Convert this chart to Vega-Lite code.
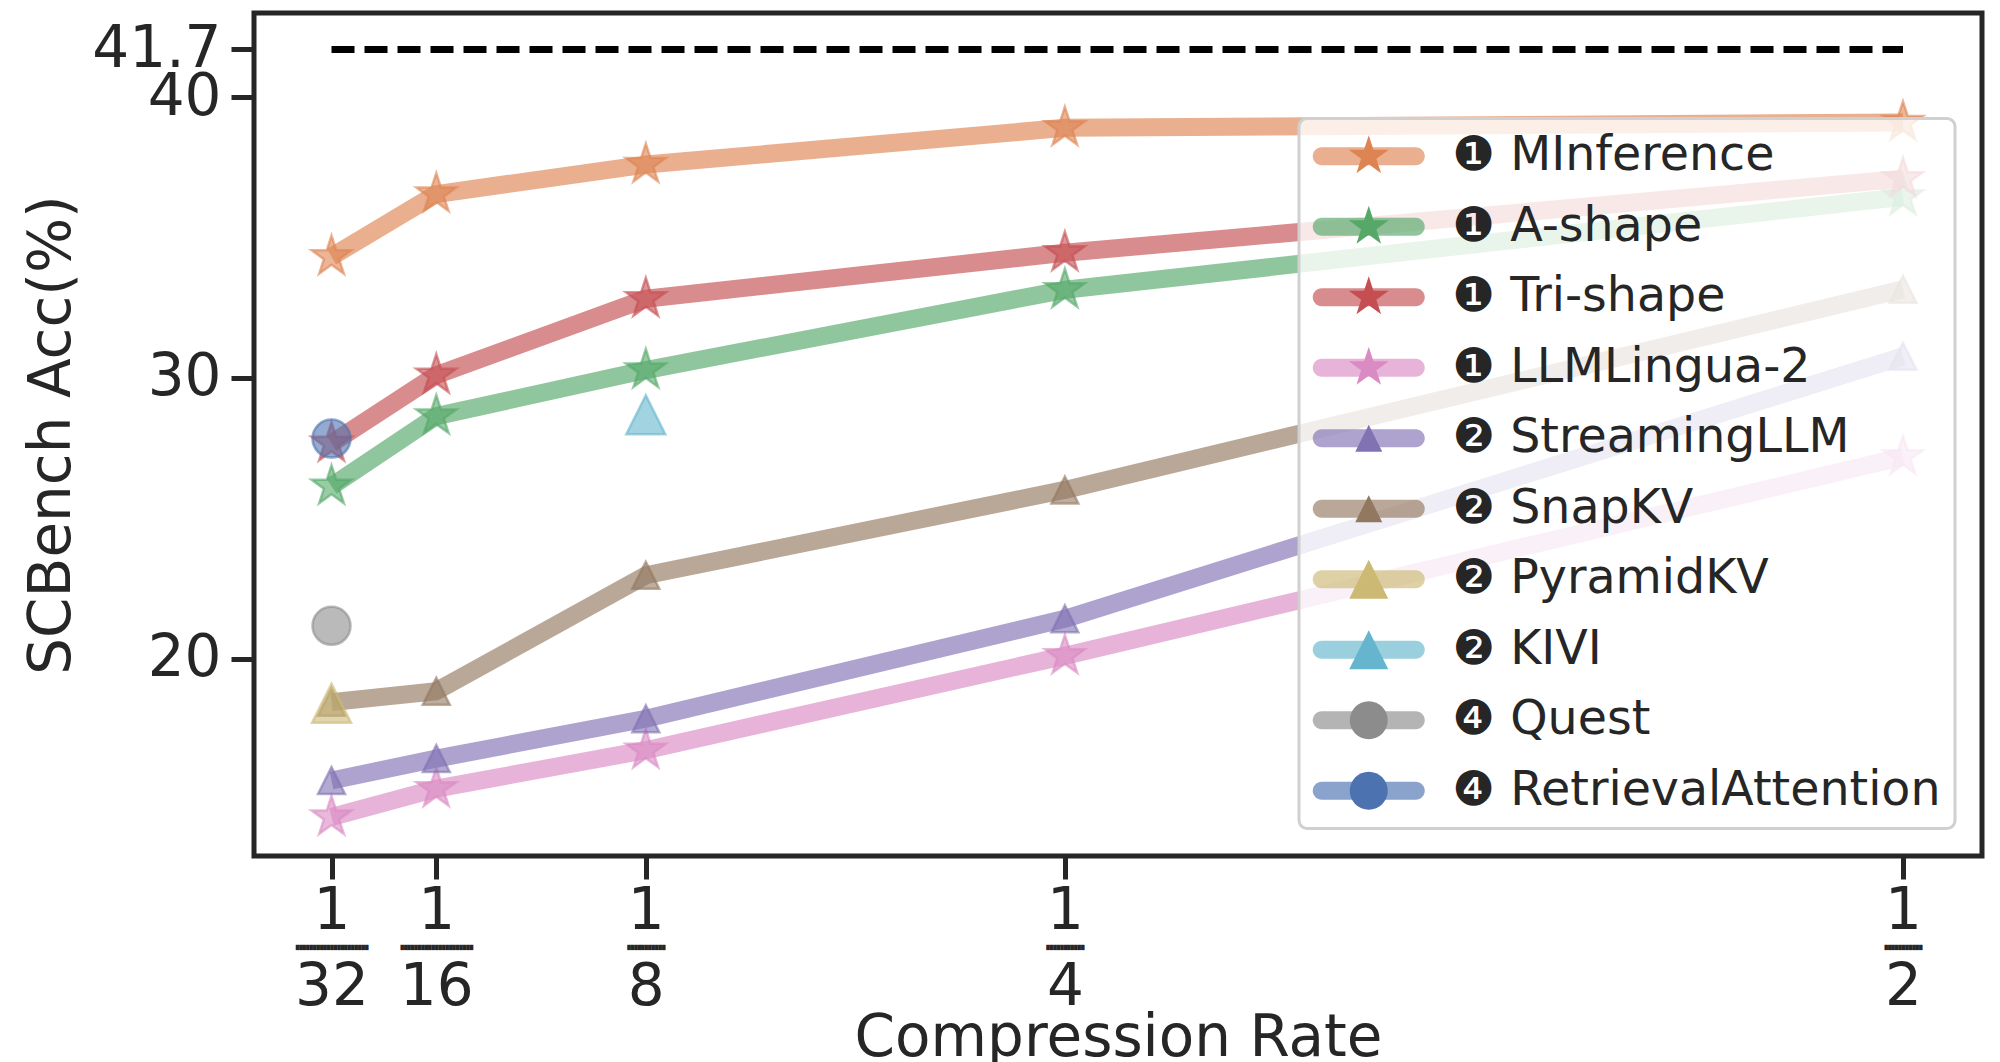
{
  "$schema": "https://vega.github.io/schema/vega-lite/v6.json",
  "width": 1728,
  "height": 843,
  "autosize": {"type": "none"},
  "padding": {"left": 254, "top": 13, "right": 18, "bottom": 206},
  "background": "white",
  "config": {
    "font": "DejaVu Sans",
    "view": {"stroke": "#262626", "strokeWidth": 5},
    "axis": {
      "grid": false,
      "domain": false,
      "ticks": true,
      "tickColor": "#262626",
      "tickWidth": 5,
      "tickSize": 23,
      "labelColor": "#262626",
      "labelFont": "DejaVu Sans",
      "labelFontSize": 58,
      "titleFont": "DejaVu Sans",
      "titleFontSize": 58,
      "titleColor": "#262626",
      "titleFontWeight": "normal"
    },
    "legend": {"labelFont": "DejaVu Sans", "labelFontSize": 47.5, "labelColor": "#262626"}
  },
  "resolve": {"axis": {"x": "independent"}},
  "datasets": {
    "ref": [{"x": 0.03125, "x2": 0.5, "y": 41.7}],
    "acc": [
      {"method": "❶ MInference", "rate": 0.03125, "acc": 34.32},
      {"method": "❶ MInference", "rate": 0.0625, "acc": 36.55},
      {"method": "❶ MInference", "rate": 0.125, "acc": 37.6},
      {"method": "❶ MInference", "rate": 0.25, "acc": 38.91},
      {"method": "❶ MInference", "rate": 0.5, "acc": 39.1},
      {"method": "❶ A-shape", "rate": 0.03125, "acc": 26.14},
      {"method": "❶ A-shape", "rate": 0.0625, "acc": 28.64},
      {"method": "❶ A-shape", "rate": 0.125, "acc": 30.28},
      {"method": "❶ A-shape", "rate": 0.25, "acc": 33.14},
      {"method": "❶ A-shape", "rate": 0.5, "acc": 36.45},
      {"method": "❶ Tri-shape", "rate": 0.03125, "acc": 27.67},
      {"method": "❶ Tri-shape", "rate": 0.0625, "acc": 30.1},
      {"method": "❶ Tri-shape", "rate": 0.125, "acc": 32.82},
      {"method": "❶ Tri-shape", "rate": 0.25, "acc": 34.46},
      {"method": "❶ Tri-shape", "rate": 0.5, "acc": 37.1},
      {"method": "❶ LLMLingua-2", "rate": 0.03125, "acc": 14.36},
      {"method": "❶ LLMLingua-2", "rate": 0.0625, "acc": 15.37},
      {"method": "❶ LLMLingua-2", "rate": 0.125, "acc": 16.74},
      {"method": "❶ LLMLingua-2", "rate": 0.25, "acc": 20.1},
      {"method": "❶ LLMLingua-2", "rate": 0.5, "acc": 27.19},
      {"method": "❷ StreamingLLM", "rate": 0.03125, "acc": 15.66},
      {"method": "❷ StreamingLLM", "rate": 0.0625, "acc": 16.44},
      {"method": "❷ StreamingLLM", "rate": 0.125, "acc": 17.86},
      {"method": "❷ StreamingLLM", "rate": 0.25, "acc": 21.42},
      {"method": "❷ StreamingLLM", "rate": 0.5, "acc": 30.77},
      {"method": "❷ SnapKV", "rate": 0.03125, "acc": 18.45},
      {"method": "❷ SnapKV", "rate": 0.0625, "acc": 18.84},
      {"method": "❷ SnapKV", "rate": 0.125, "acc": 22.97},
      {"method": "❷ SnapKV", "rate": 0.25, "acc": 26.01},
      {"method": "❷ SnapKV", "rate": 0.5, "acc": 33.16},
      {"method": "❷ PyramidKV", "rate": 0.03125, "acc": 18.41},
      {"method": "❷ KIVI", "rate": 0.125, "acc": 28.69},
      {"method": "❹ Quest", "rate": 0.03125, "acc": 21.17},
      {"method": "❹ RetrievalAttention", "rate": 0.03125, "acc": 27.84}
    ]
  },
  "layer": [
    {
      "data": {"name": "ref"},
      "mark": {"type": "rule", "color": "black", "strokeWidth": 7, "strokeDash": [23, 10]},
      "encoding": {
        "x": {
          "field": "x",
          "type": "quantitative",
          "title": "Compression Rate",
          "scale": {"domain": [0.00813, 0.52357], "nice": false, "zero": false},
          "axis": {
            "orient": "bottom",
            "title": "Compression Rate",
            "values": [0.03125, 0.0625, 0.125, 0.25, 0.5],
            "labelExpr": "datum.value == 0.03125 ? ['1', '32'] : datum.value == 0.0625 ? ['1', '16'] : datum.value == 0.125 ? ['1', '8'] : datum.value == 0.25 ? ['1', '4'] : ['1', '2']",
            "labelLineHeight": 76,
            "labelPadding": 3,
            "labelFlush": false,
            "labelOverlap": false,
            "titlePadding": -7
          }
        },
        "x2": {"field": "x2"},
        "y": {
          "field": "y",
          "type": "quantitative",
          "title": "SCBench Acc(%)",
          "scale": {"domain": [12.97, 43.0], "nice": false, "zero": false},
          "axis": {
            "title": "SCBench Acc(%)",
            "values": [20, 30, 40, 41.7],
            "labelExpr": "datum.value == 41.7 ? '41.7' : format(datum.value, 'd')",
            "labelPadding": 10,
            "labelOverlap": false,
            "labelBound": false,
            "titlePadding": 10
          }
        }
      }
    },
    {
      "data": {"name": "acc"},
      "mark": {"type": "line", "strokeWidth": 18, "opacity": 0.65, "strokeJoin": "round", "strokeCap": "butt"},
      "encoding": {
        "x": {
          "field": "rate",
          "type": "quantitative",
          "axis": {
            "orient": "bottom",
            "title": null,
            "ticks": false,
            "tickSize": 0,
            "values": [0.03125, 0.0625, 0.125, 0.25, 0.5],
            "labelExpr": "datum.value <= 0.0625 ? '█████████████████████' : '███████████'",
            "labelFontSize": 4.5,
            "labelPadding": 88.6,
            "labelFlush": false,
            "labelOverlap": false,
            "labelBound": false
          }
        },
        "y": {"field": "acc", "type": "quantitative", "title": "SCBench Acc(%)"},
        "stroke": {
          "field": "method",
          "type": "nominal",
          "scale": {
            "domain": ["❶ MInference", "❶ A-shape", "❶ Tri-shape", "❶ LLMLingua-2", "❷ StreamingLLM", "❷ SnapKV", "❷ PyramidKV", "❷ KIVI", "❹ Quest", "❹ RetrievalAttention", "zz"],
            "range": ["#DD8452", "#55A868", "#C44E52", "#DA8BC3", "#8172B3", "#937860", "#CCB974", "#64B5CD", "#8C8C8C", "#4C72B0", "#ffffff"]
          },
          "legend": {
            "title": null,
            "orient": "none",
            "legendX": 1045,
            "legendY": 105.5,
            "direction": "vertical",
            "values": ["❶ MInference", "❶ A-shape", "❶ Tri-shape", "❶ LLMLingua-2", "❷ StreamingLLM", "❷ SnapKV", "❷ PyramidKV", "❷ KIVI", "❹ Quest", "❹ RetrievalAttention"],
            "symbolType": "M-9.4,-1.8H9.4A1.8,1.8,0,0,1,9.4,1.8H-9.4A1.8,1.8,0,0,1,-9.4,-1.8Z",
            "symbolSize": 100,
            "symbolStrokeWidth": 0,
            "symbolOpacity": 0.65,
            "symbolOffset": 32,
            "labelOffset": 60,
            "labelLimit": 1000,
            "rowPadding": 21.5,
            "padding": 14,
            "fillColor": "rgba(255,255,255,0.8)",
            "strokeColor": "#d0d0d0",
            "cornerRadius": 8,
            "zindex": 1,
            "encode": {
              "symbols": {"update": {"fill": {"scale": "stroke", "field": "value"}, "strokeWidth": {"value": 0}}},
              "legend": {"update": {"strokeWidth": {"value": 3}}}
            }
          }
        }
      }
    },
    {
      "data": {"name": "acc"},
      "mark": {
        "type": "point",
        "filled": true,
        "size": 1764,
        "fillOpacity": 0.6,
        "strokeOpacity": 0.6,
        "strokeWidth": 2.5,
        "stroke": {"expr": "scale('fill', datum.method)"}
      },
      "encoding": {
        "x": {"field": "rate", "type": "quantitative", "axis": null},
        "y": {"field": "acc", "type": "quantitative", "title": "SCBench Acc(%)"},
        "fill": {
          "field": "method",
          "type": "nominal",
          "scale": {
            "domain": ["❶ MInference", "❶ A-shape", "❶ Tri-shape", "❶ LLMLingua-2", "❷ StreamingLLM", "❷ SnapKV", "❷ PyramidKV", "❷ KIVI", "❹ Quest", "❹ RetrievalAttention"],
            "range": ["#DD8452", "#55A868", "#C44E52", "#DA8BC3", "#8172B3", "#937860", "#CCB974", "#64B5CD", "#8C8C8C", "#4C72B0"]
          },
          "legend": {
            "title": null,
            "orient": "none",
            "legendX": 1045,
            "legendY": 105.5,
            "direction": "vertical",
            "symbolSize": 1764,
            "symbolOpacity": 1,
            "symbolStrokeWidth": 2.5,
            "symbolOffset": 32,
            "labelExpr": "''",
            "rowPadding": 21.5,
            "padding": 14,
            "zindex": 2,
            "encode": {
              "symbols": {
                "update": {
                  "stroke": {"signal": "scale('fill', datum.value)"},
                  "fillOpacity": {"value": 0.6},
                  "strokeOpacity": {"value": 0.6}
                }
              }
            }
          }
        },
        "shape": {
          "field": "method",
          "type": "nominal",
          "scale": {
            "domain": ["❶ MInference", "❶ A-shape", "❶ Tri-shape", "❶ LLMLingua-2", "❷ StreamingLLM", "❷ SnapKV", "❷ PyramidKV", "❷ KIVI", "❹ Quest", "❹ RetrievalAttention"],
            "range": [
              "M0,-1L-0.2245,-0.309L-0.9511,-0.309L-0.3633,0.118L-0.5878,0.809L0,0.382L0.5878,0.809L0.3633,0.118L0.9511,-0.309L0.2245,-0.309Z",
              "M0,-1L-0.2245,-0.309L-0.9511,-0.309L-0.3633,0.118L-0.5878,0.809L0,0.382L0.5878,0.809L0.3633,0.118L0.9511,-0.309L0.2245,-0.309Z",
              "M0,-1L-0.2245,-0.309L-0.9511,-0.309L-0.3633,0.118L-0.5878,0.809L0,0.382L0.5878,0.809L0.3633,0.118L0.9511,-0.309L0.2245,-0.309Z",
              "M0,-1L-0.2245,-0.309L-0.9511,-0.309L-0.3633,0.118L-0.5878,0.809L0,0.382L0.5878,0.809L0.3633,0.118L0.9511,-0.309L0.2245,-0.309Z",
              "M0,-0.643L-0.643,0.643L0.643,0.643Z",
              "M0,-0.643L-0.643,0.643L0.643,0.643Z",
              "M0,-0.929L-0.929,0.929L0.929,0.929Z",
              "M0,-0.929L-0.929,0.929L0.929,0.929Z",
              "M-0.905,0A0.905,0.905,0,1,0,0.905,0A0.905,0.905,0,1,0,-0.905,0Z",
              "M-0.905,0A0.905,0.905,0,1,0,0.905,0A0.905,0.905,0,1,0,-0.905,0Z"
            ]
          },
          "legend": {
            "title": null,
            "orient": "none",
            "legendX": 1045,
            "legendY": 105.5,
            "direction": "vertical",
            "symbolSize": 1764,
            "symbolOpacity": 1,
            "symbolStrokeWidth": 2.5,
            "symbolOffset": 32,
            "labelExpr": "''",
            "rowPadding": 21.5,
            "padding": 14,
            "zindex": 2,
            "encode": {
              "symbols": {
                "update": {
                  "stroke": {"signal": "scale('fill', datum.value)"},
                  "fillOpacity": {"value": 0.6},
                  "strokeOpacity": {"value": 0.6}
                }
              }
            }
          }
        }
      }
    }
  ]
}
